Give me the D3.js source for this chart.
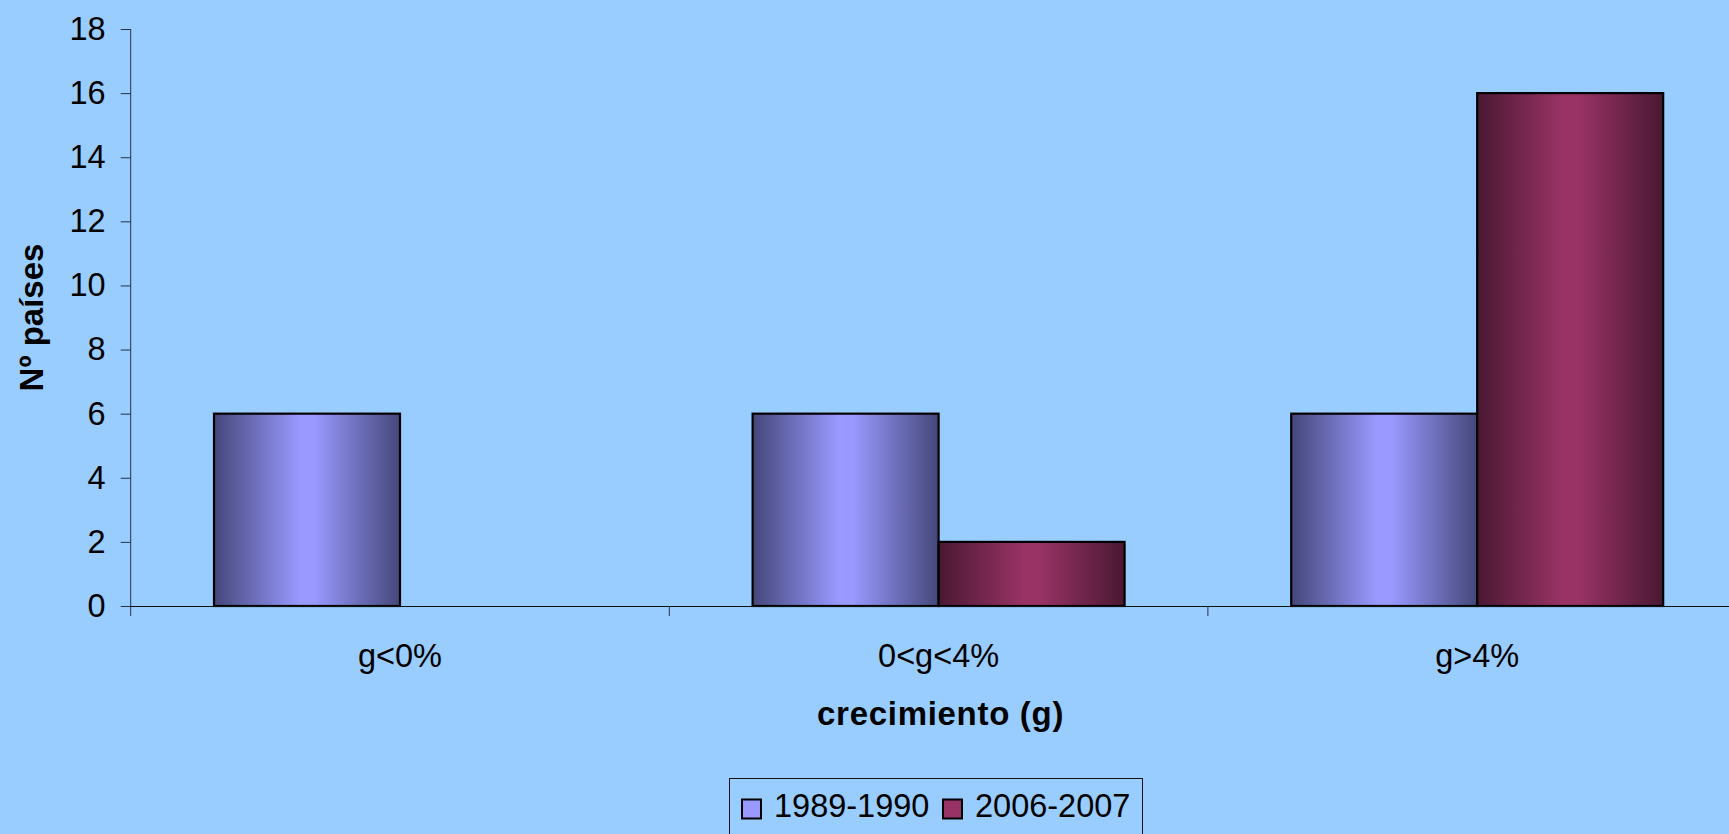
<!DOCTYPE html>
<html>
<head>
<meta charset="utf-8">
<script src="https://cdn.jsdelivr.net/npm/d3@7"></script>
<style>
  html, body { margin: 0; padding: 0; background: #99ccff; overflow: hidden; }
  svg { display: block; font-family: "Liberation Sans", Arial, sans-serif; }
</style>
</head>
<body>
<svg width="1729" height="834"></svg>
<script>
// chart data
let categories = ["g<0%", "0<g<4%", "g>4%"]
let series = ["1989-1990", "2006-2007"]
let values1989 = [6, 6, 6]
let values2006 = [0, 2, 16]
let yTicks = [0, 2, 4, 6, 8, 10, 12, 14, 16, 18]

let svg = d3.select("svg")
let margin = {top: 29, left: 130.7}
let plotRight = 1746.5  // plot area runs past the picture's right edge
let plotBottom = 606

let colors = {
  "1989-1990": {light: "#9999ff", dark: "#45477a"},
  "2006-2007": {light: "#993366", dark: "#4a1832"}
}

svg.append("rect").attr("width", 1729).attr("height", 834).attr("fill", "#99ccff")

let defs = svg.append("defs")
series.forEach((s, i) => {
  let grad = defs.append("linearGradient")
      .attr("id", "grad" + i)
      .attr("x1", "0%").attr("x2", "100%").attr("y1", "0%").attr("y2", "0%")
  grad.append("stop").attr("offset", "0%").attr("stop-color", colors[s].dark)
  grad.append("stop").attr("offset", "46%").attr("stop-color", colors[s].light)
  grad.append("stop").attr("offset", "54%").attr("stop-color", colors[s].light)
  grad.append("stop").attr("offset", "100%").attr("stop-color", colors[s].dark)
})

let x0 = d3.scaleBand().domain(categories).range([margin.left, plotRight]).padding(0)
let x1 = d3.scaleBand().domain(series).range([0, x0.bandwidth()]).paddingInner(0).paddingOuter(0.448)
let y = d3.scaleLinear().domain([0, 18]).range([plotBottom, margin.top])

let table = categories.map((c, i) => ({
  cat: c,
  vals: [{s: series[0], v: values1989[i]}, {s: series[1], v: values2006[i]}]
}))

// y axis
let yAxis = svg.append("g")
    .attr("transform", "translate(" + margin.left + ",0)")
    .call(d3.axisLeft(y).tickValues(yTicks).tickSize(10).tickPadding(15).tickSizeOuter(0))
yAxis.select(".domain").remove()
yAxis.selectAll(".tick line").attr("stroke", "#2a3040")
yAxis.selectAll(".tick text")
    .attr("font-size", 32.5).attr("fill", "#000")
    .attr("font-family", "Liberation Sans, Arial, sans-serif")
    .attr("dy", "0.32em")
svg.append("line")
    .attr("x1", margin.left).attr("x2", margin.left)
    .attr("y1", y(18)).attr("y2", plotBottom + 10)
    .attr("stroke", "#2a3040")

// bars
let groups = svg.selectAll(".group")
  .data(table)
  .enter().append("g")
    .attr("class", "group")
    .attr("transform", d => "translate(" + x0(d.cat) + ",0)")

groups.selectAll("rect")
  .data(d => d.vals.filter(e => e.v > 0))
  .enter().append("rect")
    .attr("x", d => x1(d.s))
    .attr("y", d => y(d.v))
    .attr("width", x1.bandwidth())
    .attr("height", d => plotBottom - y(d.v))
    .attr("fill", d => "url(#grad" + series.indexOf(d.s) + ")")
    .attr("stroke", "#000")
    .attr("stroke-width", 2.2)

// x axis
let xAxis = svg.append("g")
    .attr("transform", "translate(0," + plotBottom + ")")
    .call(d3.axisBottom(x0).tickSize(0).tickPadding(38).tickSizeOuter(0))
xAxis.select(".domain").attr("stroke", "#111").attr("d", "M" + margin.left + ",0.5H" + plotRight)
xAxis.selectAll(".tick text")
    .attr("font-size", 32.5).attr("fill", "#000")
    .attr("font-family", "Liberation Sans, Arial, sans-serif")
    .attr("dy", "0.71em")

svg.selectAll(".xbound")
  .data(categories.slice(1))
  .enter().append("line")
    .attr("class", "xbound")
    .attr("x1", d => x0(d)).attr("x2", d => x0(d))
    .attr("y1", plotBottom).attr("y2", plotBottom + 10)
    .attr("stroke", "#2a3040")

// axis titles
svg.append("text")
    .attr("x", (margin.left + plotRight) / 2 + 2)
    .attr("y", 725)
    .attr("text-anchor", "middle")
    .attr("font-size", 33).attr("font-weight", "bold")
    .attr("letter-spacing", 0.7)
    .text("crecimiento (g)")

svg.append("text")
    .attr("transform", "translate(43," + (margin.top + plotBottom) / 2 + ") rotate(-90)")
    .attr("text-anchor", "middle")
    .attr("font-size", 33).attr("font-weight", "bold")
    .text("Nº países")

// legend
let legend = svg.append("g")
legend.append("rect")
    .attr("x", 729.5).attr("y", 778.5)
    .attr("width", 413).attr("height", 80)
    .attr("fill", "none").attr("stroke", "#111").attr("stroke-width", 1)

let legendX = [742, 943]
series.forEach((s, i) => {
  legend.append("rect")
      .attr("x", legendX[i]).attr("y", 799.5)
      .attr("width", 19).attr("height", 19)
      .attr("fill", colors[s].light)
      .attr("stroke", "#000").attr("stroke-width", 2)
  legend.append("text")
      .attr("x", legendX[i] + 32).attr("y", 816.5)
      .attr("font-size", 32.5)
      .text(s)
})
</script>
</body>
</html>
